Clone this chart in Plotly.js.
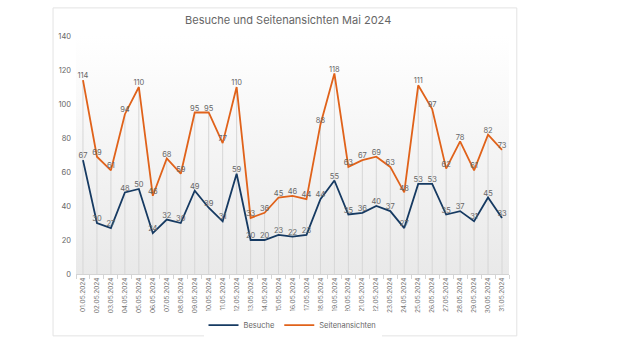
<!DOCTYPE html>
<html>
<head>
<meta charset="utf-8">
<script src="https://cdn.plot.ly/plotly-3.0.1.min.js"></script>
<style>
  html, body { margin: 0; padding: 0; background: #ffffff; }
  #chart { width: 640px; height: 360px; }
</style>
</head>
<body>
<div id="chart"></div>
<script>
const dates = ["01.05.2024","02.05.2024","03.05.2024","04.05.2024","05.05.2024","06.05.2024","07.05.2024","08.05.2024","09.05.2024","10.05.2024","11.05.2024","12.05.2024","13.05.2024","14.05.2024","15.05.2024","16.05.2024","17.05.2024","18.05.2024","19.05.2024","20.05.2024","21.05.2024","22.05.2024","23.05.2024","24.05.2024","25.05.2024","26.05.2024","27.05.2024","28.05.2024","29.05.2024","30.05.2024","31.05.2024"];
const besuche = [67,30,27,48,50,24,32,30,49,39,31,59,20,20,23,22,23,44,55,35,36,40,37,27,53,53,35,37,31,45,33];
const seitenansichten = [114,69,61,94,110,46,68,59,95,95,77,110,33,36,45,46,44,88,118,63,67,69,63,48,111,97,62,78,61,82,73];
const seriesNames = ["Besuche", "Seitenansichten"];
const yTicks = [0,20,40,60,80,100,120,140];

const labelFont = {family: "Inter, 'Noto Sans', sans-serif", size: 7.5, color: "#666666"};

// drop lines from the highest point of each day down to the axis
const dropX = [], dropY = [];
dates.forEach((d, i) => {
  dropX.push(d, d, null);
  dropY.push(0, Math.max(besuche[i], seitenansichten[i]), null);
});

const gradSvg = "data:image/svg+xml;utf8," + encodeURIComponent(
  '<svg xmlns="http://www.w3.org/2000/svg" width="100" height="100" preserveAspectRatio="none">' +
  '<defs><linearGradient id="g" x1="0" y1="0" x2="0" y2="1">' +
  '<stop offset="0" stop-color="#ffffff"/><stop offset="1" stop-color="#e9e9e9"/>' +
  '</linearGradient></defs><rect width="100" height="100" fill="url(#g)"/></svg>');

const traces = [
  {
    x: dropX, y: dropY, type: "scatter", mode: "lines",
    line: {color: "#d6d6d6", width: 1},
    hoverinfo: "skip", showlegend: false
  },
  {
    x: dates, y: besuche, name: seriesNames[0], type: "scatter", mode: "lines+text",
    line: {color: "#163a62", width: 1.8},
    text: besuche.map(String), textposition: "top center",
    textfont: labelFont, cliponaxis: false
  },
  {
    x: dates, y: seitenansichten, name: seriesNames[1], type: "scatter", mode: "lines+text",
    line: {color: "#e0621a", width: 1.8},
    text: seitenansichten.map(String), textposition: "top center",
    textfont: labelFont, cliponaxis: false
  }
];

const layout = {
  width: 640, height: 360,
  margin: {l: 76, r: 131, t: 36, b: 86},
  paper_bgcolor: "#ffffff",
  plot_bgcolor: "rgba(0,0,0,0)",
  font: {family: "Inter, 'Noto Sans', sans-serif", color: "#666666"},
  title: {
    text: "Besuche und Seitenansichten Mai 2024",
    font: {size: 11, color: "#666666"},
    x: 0.49, xref: "paper", xanchor: "center",
    y: 0.945, yref: "container", yanchor: "middle"
  },
  xaxis: {
    type: "category",
    categoryarray: dates, categoryorder: "array",
    range: [-0.5, dates.length - 0.5],
    automargin: false,
    tickangle: -90,
    tickfont: {size: 6.5, color: "#777777"},
    showline: true, linecolor: "#d4d4d4", linewidth: 1,
    ticks: "outside", tickson: "boundaries", ticklen: 4, tickcolor: "#d4d4d4",
    showgrid: false, zeroline: false
  },
  yaxis: {
    automargin: false,
    range: [0, 140],
    tickvals: yTicks,
    tickfont: {size: 7.5, color: "#666666"},
    showgrid: false, zeroline: false, showline: false,
    ticks: "", ticklabelstandoff: 4
  },
  legend: {
    orientation: "h",
    x: 0.5, xanchor: "center",
    y: -0.215, yanchor: "middle",
    font: {size: 7.5, color: "#666666"},
    itemwidth: 30, tracegroupgap: 0
  },
  images: [{
    source: gradSvg, xref: "paper", yref: "paper",
    x: 0, y: 1, sizex: 1, sizey: 1, sizing: "stretch",
    xanchor: "left", yanchor: "top", layer: "below"
  }],
  shapes: [{
    type: "rect", xref: "paper", yref: "paper",
    x0: -0.053, x1: 1.018, y0: -0.26, y1: 1.118,
    line: {color: "#e3e3e3", width: 1}, fillcolor: "rgba(0,0,0,0)", layer: "below"
  }]
};

Plotly.newPlot("chart", traces, layout, {displayModeBar: false, staticPlot: true});
</script>
</body>
</html>
